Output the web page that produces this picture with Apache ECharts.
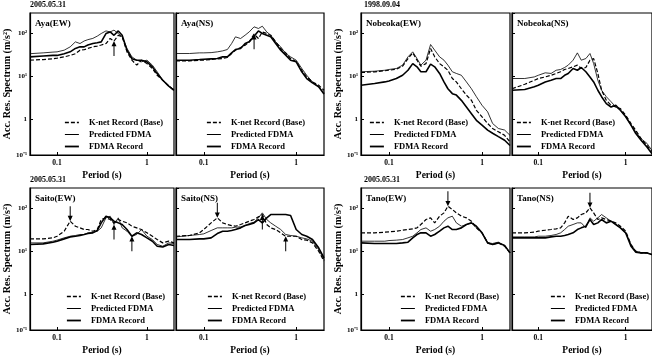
<!DOCTYPE html>
<html><head><meta charset="utf-8">
<script src="https://cdn.jsdelivr.net/npm/echarts@6/dist/echarts.min.js"></script>
<style>html,body{margin:0;padding:0;background:#fff}#c{width:652px;height:359px}</style>
</head><body><div id="c"></div>
<script>
// ---------- data ----------
const periods = [0.05,0.07,0.09,0.1,0.12,0.14,0.16,0.18,0.2,0.22,0.25,0.28,0.31,0.35,0.39,0.43,0.48,0.53,0.6,0.68,0.77,0.87,1.0,1.15,1.3,1.5,1.75,2.0];
const seriesNames = ['K-net Record (Base)','Predicted FDMA','FDMA Record'];
const panelTitles = ['Aya(EW)','Aya(NS)','Nobeoka(EW)','Nobeoka(NS)','Saito(EW)','Saito(NS)','Tano(EW)','Tano(NS)'];
const dateLabels = ['2005.05.31','1998.09.04','2005.05.31','2005.05.31'];
const xTickLabels = {'-1':'0.1','0':'1'};
const yTickLabels = {'-1':'10\u207B\u00B9','0':'1','1':'10\u00B9','2':'10\u00B2'};
const xAxisName = 'Period (s)';
const yAxisName = 'Acc. Res. Spectrum (m/s\u00B2)';

const ayaEW_knet = [24,24.8,25.8,26.7,28.7,31,34,41,42,45,49,51,54,58.5,77,67,91,84,37.5,24,18.4,24,20,15.3,10.7,8.2,6.0,4.8];
const ayaEW_pred = [34,35.5,37,37.5,41,49,64,58.5,67,72,77,87,100,115,109,120,100,84,45,28.7,24,22,24,18.4,12.9,8.2,6.0,5.0];
const ayaEW_rec  = [28.7,30,31,31,34,37.5,45,49,49,54,58.5,61,64,100,109,91,115,91,41,26,24,24,22,16.8,11.7,8.2,6.0,4.8];

const ayaNS_knet = [23.1,23.1,24,24,24.8,25.8,26.2,27.7,34.3,41,47,53.6,64,96.5,76.5,109,100,91.5,64,44.8,35.5,26.2,22,14,9.8,7.5,6.3,4.8];
const ayaNS_pred = [34.3,34.3,35.5,35.5,36,37.5,39.5,42.5,58.5,83.7,76.5,91.5,109,143,131,148,109,91.5,64,49,34.3,28.7,24,15.4,10.7,7.5,5.8,4.2];
const ayaNS_rec  = [24,24,24.8,25.3,25.8,26.2,28.7,28.7,35.5,42.5,44.8,58.5,64,86.7,115,100,91.5,83.7,58.5,41,31.4,24,22,12.9,9.0,7.1,5.8,3.9];

const nobEW_knet = [12.4,12.9,13.6,14,14.8,17.4,26.2,35.5,24,17.4,20,44.8,28.7,20,16.8,14,9.0,7.5,5.2,3.7,2.8,1.64,1.16,0.81,0.62,0.52,0.43,0.30];
const nobEW_pred = [12.9,13.3,14,14.6,15.4,18.4,28.7,37.5,26.2,18.4,24,55.5,41,28.7,24,18.4,12.9,11.8,10.7,7.5,5.2,3.4,2.15,1.51,0.81,0.62,0.57,0.43];
const nobEW_rec  = [6.3,6.9,7.5,7.9,9.0,10.7,14,20,16.8,12.9,12.9,19.4,16.8,11.8,7.5,5.2,4.0,3.7,2.8,1.96,1.37,0.96,0.74,0.57,0.48,0.40,0.33,0.25];

const nobNS_knet = [5.2,6.6,8.2,9.0,9.8,10.7,11.8,12.9,14.6,15.4,16.8,18.4,15.4,16.2,24,26.2,11.8,4.8,2.8,2.15,1.96,1.80,1.26,0.81,0.57,0.36,0.25,0.18];
const nobNS_pred = [9.0,9.0,9.8,10.7,12.2,11.8,14.0,14.6,16.2,18.4,24,35.5,24,26.2,34.3,20,8.2,4.8,3.4,2.6,1.96,1.64,1.16,0.74,0.52,0.36,0.28,0.19];
const nobNS_rec  = [4.8,5.0,5.8,6.3,7.5,8.2,9.0,9.0,10.7,11.8,15.4,14.0,16.2,12.9,9.8,7.5,4.8,3.4,2.35,1.96,2.15,1.64,1.16,0.74,0.48,0.33,0.23,0.16];

const saiEW_knet = [19.7,19.7,20.8,22.7,29.7,50.7,38.8,35.5,32.5,32.5,29.7,32.5,55.5,60.7,55.5,46.4,55.5,50.7,46.4,38.8,35.5,32.5,27.2,22.7,19.0,15.9,17.4,15.9];
const saiEW_pred = [15.9,15.9,17.4,18.4,20.8,22.7,23.6,24.9,24.9,27.2,28.2,29.7,35.5,60.7,66.4,42.5,60.7,35.5,29.7,22.7,24.9,32.5,22.7,19.0,14.6,13.3,15.9,15.4];
const saiEW_rec  = [14.6,15.1,16.5,17.4,19.7,21.9,22.7,23.6,24.9,26.2,27.2,30.8,46.4,66.4,60.7,50.7,46.4,42.5,32.5,22.7,27.2,24.9,20.8,17.4,13.3,12.8,14.6,13.8];

const saiNS_knet = [22.7,23.6,27.2,32.5,46.4,60.7,46.4,42.5,40.2,38.8,42.5,46.4,50.7,55.5,64,72.5,42.5,35.5,32.5,27.2,22.7,22.7,22.7,19.0,18.4,15.9,10.2,6.0];
const saiNS_pred = [21.9,23.6,24.9,25.8,30.8,35.5,35.5,35.5,35.5,36.8,37.5,40.2,44.8,48.1,60.7,79.3,55.5,46.4,38.8,32.5,24.9,23.6,22.7,20.8,19.7,17.4,11.1,6.5];
const saiNS_rec  = [19.0,19.0,19.7,19.7,20.8,26.2,29.7,29.7,30.8,32.5,35.5,40.2,42.5,46.4,55.5,46.4,60.7,72.5,72.5,72.5,72.5,68.8,32.5,24.9,22.7,19.0,12.2,7.1];

const tanEW_knet = [27.2,27.2,28.2,28.7,29.7,31.3,32.5,33.7,35.5,42.5,55.5,60.7,46.4,66.4,79.3,113,94.8,79.3,66.4,60.7,50.7,35.5,27.2,15.9,14.6,15.9,13.3,9.3];
const tanEW_pred = [17.4,17.4,17.4,18.0,18.4,19.0,20.8,22.7,27.2,32.5,35.5,29.7,32.5,38.8,50.7,60.7,66.4,46.4,38.8,42.5,46.4,35.5,27.2,15.9,15.4,16.5,13.8,9.3];
const tanEW_rec  = [15.9,15.4,15.4,15.4,15.4,15.9,16.5,20.8,24.9,27.2,27.2,22.7,24.9,29.7,35.5,38.8,32.5,32.5,35.5,42.5,46.4,38.8,27.2,15.9,14.6,15.9,13.8,9.3];

const tanNS_knet = [27.2,27.2,28.2,29.7,31.3,32.5,33.7,35.5,46.4,66.4,55.5,60.7,72.5,79.3,103.6,79.3,55.5,60.7,55.5,50.7,46.4,38.8,29.7,14.6,10.2,9.3,9.3,8.5];
const tanNS_pred = [21.9,21.9,21.9,22.7,22.7,23.6,24.9,27.2,32.5,38.8,42.5,46.4,46.4,35.5,60.7,50.7,60.7,72.5,60.7,50.7,42.5,35.5,27.2,14.6,10.2,9.3,9.3,8.5];
const tanNS_rec  = [20.8,20.8,20.8,20.8,20.8,21.9,22.7,22.7,23.6,24.9,27.2,32.5,35.5,38.8,55.5,42.5,46.4,55.5,46.4,50.7,42.5,35.5,27.2,13.3,9.7,9.3,9.3,8.5];

// arrows: [panel, source series array, period index, direction]
const arrowMarks = [
  [0, ayaEW_knet, 15, 'up'],
  [1, ayaNS_knet, 13, 'up'],
  [4, saiEW_knet, 5, 'down'],
  [4, saiEW_pred, 15, 'up'],
  [4, saiEW_rec, 19, 'up'],
  [5, saiNS_knet, 5, 'down'],
  [5, saiNS_knet, 15, 'up'],
  [5, saiNS_knet, 20, 'up'],
  [6, tanEW_knet, 15, 'down'],
  [7, tanNS_knet, 14, 'down']
];

// ---------- layout ----------
const panelData = [
  [ayaEW_knet, ayaEW_pred, ayaEW_rec],
  [ayaNS_knet, ayaNS_pred, ayaNS_rec],
  [nobEW_knet, nobEW_pred, nobEW_rec],
  [nobNS_knet, nobNS_pred, nobNS_rec],
  [saiEW_knet, saiEW_pred, saiEW_rec],
  [saiNS_knet, saiNS_pred, saiNS_rec],
  [tanEW_knet, tanEW_pred, tanEW_rec],
  [tanNS_knet, tanNS_pred, tanNS_rec]
];
const boxes = [
  {left:30, top:13, width:144}, {left:176, top:13, width:148}, {left:361, top:13, width:149}, {left:512, top:13, width:149},
  {left:30, top:188, width:144}, {left:176, top:188, width:148}, {left:361, top:188, width:149}, {left:512, top:188, width:149}
];
const boxH = 142;
const legendPos = [[64,118],[206,118],[369,118],[516,118],[66,292],[207,292],[400,292],[550,292]];
const datePos = [[30,1],[364,1],[30,176],[364,176]];

const FONT = 'Liberation Serif';
const lineStyles = [
  {type:[4,2], width:1.2, color:'#000'},
  {type:'solid', width:0.8, color:'#000'},
  {type:'solid', width:1.6, color:'#000'}
];
const downArrow = 'path://M1.6,0 L2.4,0 L2.4,9 L4,9 L2,14 L0,9 L1.6,9 Z';
const upArrow = 'path://M2,0 L4,5 L2.4,5 L2.4,14 L1.6,14 L1.6,5 L0,5 Z';

const grids = [], xAxes = [], yAxes = [], series = [], legends = [], graphics = [];
boxes.forEach((b, i) => {
  const labelled = (i % 2 === 0);
  grids.push({left:b.left, top:b.top, width:b.width, height:boxH, show:true, borderColor:'#000', borderWidth:1.2, containLabel:false});
  xAxes.push({
    type:'log', logBase:10, min:0.05, max:2, gridIndex:i,
    axisLine:{show:true, lineStyle:{color:'#000', width:1.2}},
    axisTick:{show:true, inside:true, length:3, lineStyle:{color:'#000'}},
    splitLine:{show:false},
    axisLabel:{show:true, color:'#000', fontFamily:FONT, fontWeight:'bold', fontSize:7.5, margin:4,
      showMinLabel:false, showMaxLabel:false,
      formatter: v => { const e = Math.log10(v); const r = Math.round(e); return Math.abs(e-r) < 0.01 ? (xTickLabels[r] || '') : ''; }},
    name:xAxisName, nameLocation:'middle', nameGap:16,
    nameTextStyle:{color:'#000', fontFamily:FONT, fontWeight:'bold', fontSize:9.5}
  });
  yAxes.push({
    type:'log', logBase:10, min:0.15, max:300, gridIndex:i,
    axisLine:{show:true, lineStyle:{color:'#000', width:1.2}},
    axisTick:{show:true, inside:true, length:3, lineStyle:{color:'#000'}},
    splitLine:{show:false},
    axisLabel:{show:labelled, color:'#000', fontFamily:FONT, fontWeight:'bold', fontSize:7, margin:3,
      showMinLabel:true, showMaxLabel:false,
      formatter: v => { if (v < 0.2) return yTickLabels['-1']; const e = Math.log10(v); const r = Math.round(e); return Math.abs(e-r) < 0.01 ? (yTickLabels[r] || '') : ''; }},
    name: labelled ? yAxisName : '', nameLocation:'middle', nameGap:13, nameRotate:90,
    nameTextStyle:{color:'#000', fontFamily:FONT, fontWeight:'bold', fontSize:10}
  });
  panelData[i].forEach((arr, k) => {
    const s = {
      type:'line', name:seriesNames[k], xAxisIndex:i, yAxisIndex:i,
      data: periods.map((p, j) => [p, arr[j]]),
      symbol:'none', showSymbol:false, smooth:false, silent:true,
      lineStyle: lineStyles[k], itemStyle:{color:'#000'}, z: 3 + k, animation:false
    };
    if (k === 0) {
      const marks = arrowMarks.filter(m => m[0] === i).map(m => ({
        coord:[periods[m[2]], m[1][m[2]]],
        symbol: m[3] === 'down' ? downArrow : upArrow,
        symbolSize:[5,15],
        symbolOffset:[0, m[3] === 'down' ? '-50%' : '50%']
      }));
      if (marks.length) s.markPoint = {data:marks, label:{show:false}, itemStyle:{color:'#000'}, silent:true, animation:false};
    }
    series.push(s);
  });
  legends.push({
    data: seriesNames.map((n, k) => ({name:n, lineStyle:Object.assign({}, lineStyles[k], {width: lineStyles[k].width + 0.2})})),
    orient:'vertical', left:legendPos[i][0], top:legendPos[i][1],
    itemWidth:14, itemHeight:6, itemGap:3, padding:0, selectedMode:false,
    itemStyle:{opacity:0},
    textStyle:{color:'#000', fontFamily:FONT, fontWeight:'bold', fontSize:8.5, padding:[0,0,0,5]}
  });
  graphics.push({type:'text', left:b.left + 5, top:b.top + 6, z:10,
    style:{text:panelTitles[i], fill:'#000', font:'bold 9px "' + FONT + '"'}});
});
dateLabels.forEach((t, i) => {
  graphics.push({type:'text', left:datePos[i][0], top:datePos[i][1], z:10,
    style:{text:t, fill:'#000', font:'bold 8px "' + FONT + '"'}});
});

const chart = echarts.init(document.getElementById('c'), null, {renderer:'canvas'});
chart.setOption({
  animation:false,
  backgroundColor:'#fff',
  grid:grids, xAxis:xAxes, yAxis:yAxes, series:series, legend:legends, graphic:graphics
});
</script>
</body></html>
